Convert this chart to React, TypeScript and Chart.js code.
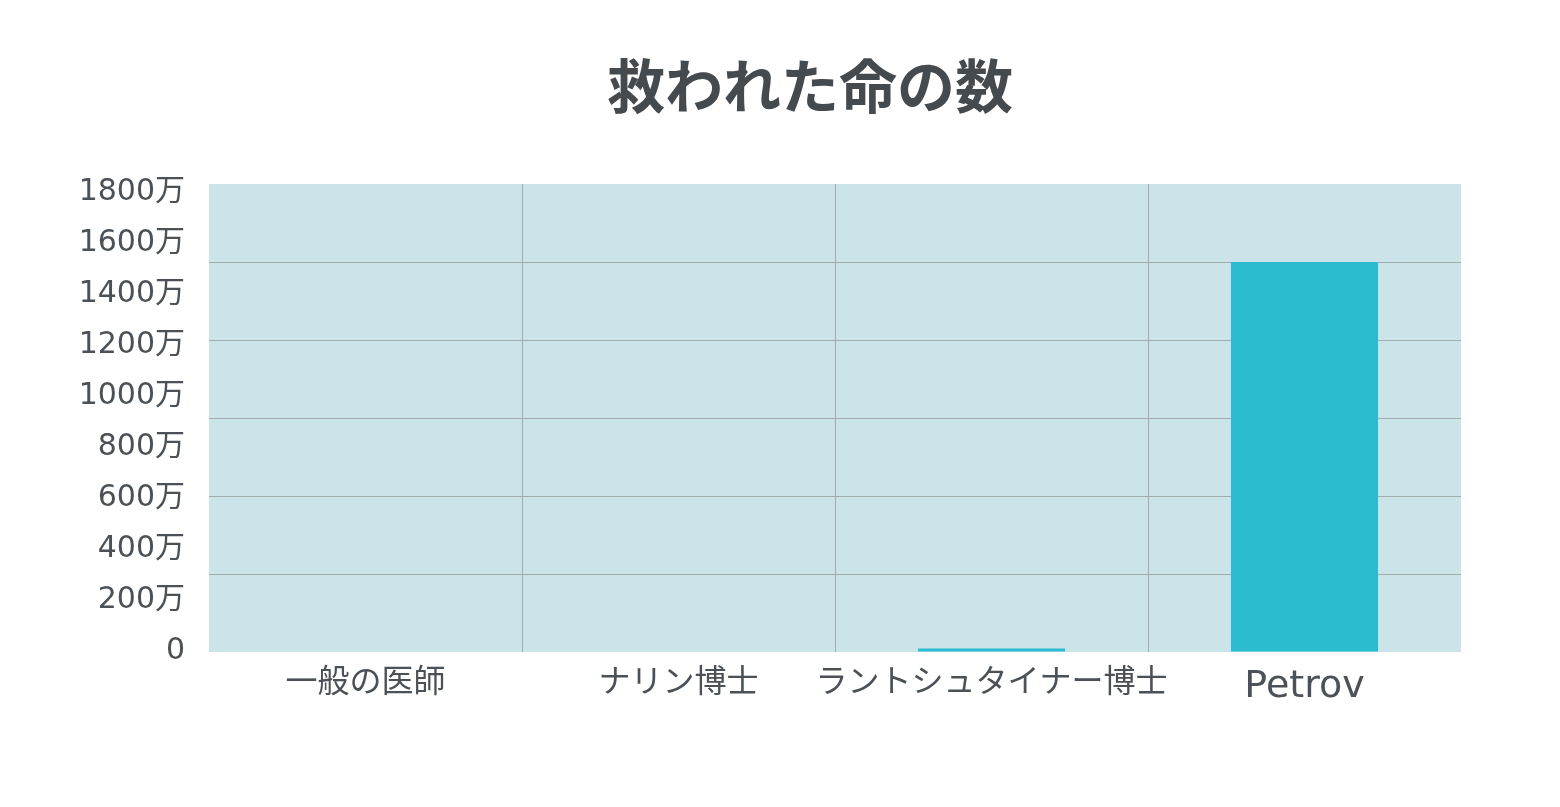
import React, { useEffect, useRef } from "react";
import { Chart, registerables } from "chart.js";

Chart.register(...registerables);

const TITLE = "救われた命の数";
const categories = ["一般の医師", "ナリン博士", "ラントシュタイナー博士", "Petrov"];
const livesSaved = [0, 0, 130000, 15000000];
const yTickValues = [0, 2000000, 4000000, 6000000, 8000000, 10000000, 12000000, 14000000, 16000000, 18000000];
const gridMax = 18000000;
const gridStep = 3000000;

const FONT = "'DejaVu Sans', 'Noto Sans CJK JP', sans-serif";
const TEXT = "#4b5156";
const GRID = "#a2acaf";
const PLOT_BG = "#cbe4e9";
const BAR = "#2bbcd2";

const fmt = (v: number) => (v === 0 ? "0" : `${v / 10000}万`);

const bgPlugin = {
  id: "plotBg",
  beforeDraw(chart: any) {
    const { ctx, chartArea } = chart;
    ctx.save();
    ctx.fillStyle = PLOT_BG;
    ctx.fillRect(chartArea.left, chartArea.top, chartArea.right - chartArea.left, chartArea.bottom - chartArea.top);
    ctx.restore();
  },
};

const titlePlugin = {
  id: "titleText",
  afterDraw(chart: any) {
    const { ctx } = chart;
    ctx.save();
    ctx.font = `bold 58px 'Noto Sans CJK JP', sans-serif`;
    ctx.fillStyle = "#454a4f";
    ctx.textAlign = "center";
    ctx.textBaseline = "middle";
    ctx.fillText(TITLE, 810, 86);
    ctx.restore();
  },
};

export default function App() {
  const ref = useRef<HTMLCanvasElement | null>(null);
  useEffect(() => {
    if (!ref.current) return;
    // label axis mapping: 0 -> 651px, 1800万 -> 192px within plot 184..652
    const k = 459 / 18000000;
    const lMin = -1 / k;
    const lMax = lMin + 468 / k;
    const chart = new Chart(ref.current, {
      type: "bar",
      data: {
        labels: categories,
        datasets: [
          {
            data: livesSaved,
            backgroundColor: BAR,
            barPercentage: 0.47,
            categoryPercentage: 1,
            yAxisID: "y",
          },
        ],
      },
      plugins: [bgPlugin, titlePlugin],
      options: {
        animation: false,
        responsive: false,
        devicePixelRatio: 1,
        layout: { padding: { top: 184, left: 0, right: 99, bottom: 0 } },
        plugins: { legend: { display: false }, tooltip: { enabled: false }, title: { display: false } },
        scales: {
          x: {
            grid: {
              offset: true,
              drawTicks: false,
              color: (c: any) => (c.index === 0 || c.index === undefined ? "rgba(0,0,0,0)" : GRID),
              lineWidth: 1,
            },
            border: { display: false },
            ticks: {
              color: TEXT,
              padding: 12,
              maxRotation: 0,
              autoSkip: false,
              font: (c: any) =>
                c.index === 3
                  ? { family: FONT, size: 38, lineHeight: "46px" }
                  : { family: FONT, size: 32, lineHeight: "40px" },
            },
            afterFit: (s: any) => {
              s.height = 155;
            },
          },
          y: {
            position: "left",
            min: 0,
            max: gridMax,
            grid: {
              drawTicks: false,
              color: (c: any) =>
                c.tick && (c.tick.value === 0 || c.tick.value === gridMax) ? "rgba(0,0,0,0)" : GRID,
              lineWidth: 1,
            },
            border: { display: false },
            ticks: { display: false, stepSize: gridStep },
            afterFit: (s: any) => {
              s.width = 0;
            },
          },
          yl: {
            position: "left",
            min: lMin,
            max: lMax,
            grid: { display: false, drawTicks: false },
            border: { display: false },
            afterBuildTicks: (axis: any) => {
              axis.ticks = yTickValues.map((value) => ({ value }));
            },
            ticks: {
              color: TEXT,
              padding: 24,
              font: { family: FONT, size: 30 },
              callback: (v: any) => fmt(Number(v)),
            },
            afterFit: (s: any) => {
              s.width = 209;
            },
          },
        },
      },
    } as any);
    return () => chart.destroy();
  }, []);
  return (
    <div style={{ position: "absolute", left: 0, top: 0, width: 1560, height: 807, background: "#fff" }}>
      <canvas ref={ref} width={1560} height={807} style={{ display: "block" }} />
    </div>
  );
}
